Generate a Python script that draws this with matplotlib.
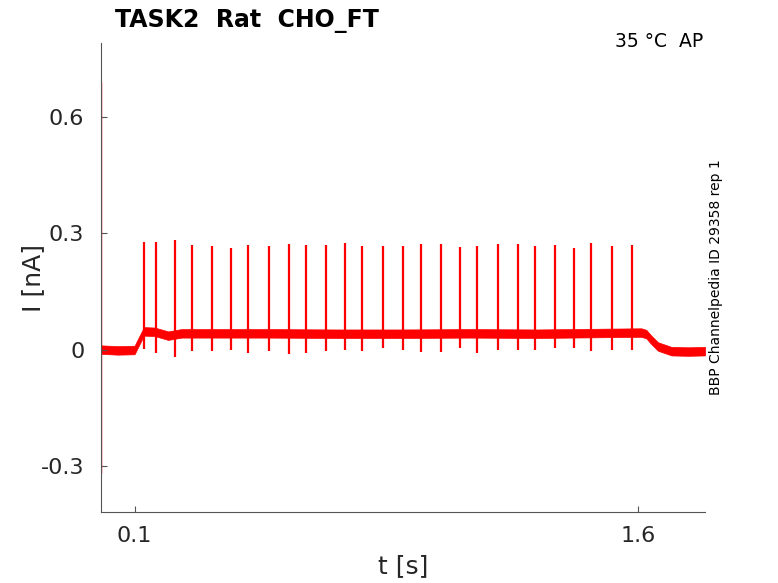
import numpy as np
import matplotlib
matplotlib.use('Agg')
import matplotlib.pyplot as plt

# spike times [s], peaks and post-spike troughs [nA]
spike_t = [0.1285, 0.1643, 0.2202, 0.2719, 0.3316, 0.3884, 0.4392, 0.5011, 0.5608,
           0.6116, 0.6714, 0.7281, 0.7789, 0.8417, 0.9014, 0.9522, 1.0129, 1.0687,
           1.1204, 1.1823, 1.2420, 1.2928, 1.3526, 1.4093, 1.4601, 1.5229, 1.5814]
spike_peak = [0.277, 0.277, 0.282, 0.270, 0.268, 0.262, 0.271, 0.266, 0.273,
              0.271, 0.269, 0.274, 0.266, 0.267, 0.268, 0.272, 0.273, 0.264,
              0.266, 0.273, 0.273, 0.267, 0.269, 0.263, 0.274, 0.267, 0.271]
spike_trough = [0.001, -0.009, -0.019, -0.004, -0.004, 0.000, -0.009, -0.003, -0.011,
                -0.009, -0.003, 0.000, -0.004, 0.003, -0.002, -0.006, -0.006, 0.005,
                -0.009, 0.000, 0.000, 0.000, 0.003, 0.003, -0.004, 0.000, 0.000]

# slow baseline (centre of the noisy band)
base_t = [0.0, 0.05, 0.10, 0.115, 0.128, 0.16, 0.20, 0.24, 0.35, 0.50, 0.70,
          0.90, 1.10, 1.30, 1.50, 1.61, 1.625, 1.64, 1.66, 1.70, 1.75, 1.80]
base_mid = [0.0, -0.002, -0.001, 0.025, 0.047, 0.046, 0.036, 0.042, 0.042, 0.042, 0.041,
            0.041, 0.042, 0.041, 0.043, 0.044, 0.040, 0.025, 0.008, -0.004, -0.005, -0.004]
noise_half = 0.011

# capacitive transient at t = 0
trans_t = 0.001
trans_lo = -0.318
trans_hi = 0.69

xticks = [0.1, 1.6]
yticks = [-0.3, 0, 0.3, 0.6]
yticklabels = ['-0.3', '0', '0.3', '0.6']

red = '#ff0000'
grey = '#555555'
txt = '#262626'

fig = plt.figure(figsize=(7.78, 5.83), dpi=100)
ax = fig.add_axes([0.1298, 0.1218, 0.7764, 0.8044])

bm = np.array(base_mid)
ax.fill_between(base_t, bm - noise_half, bm + noise_half, color=red, lw=0.5)
ax.vlines(spike_t, spike_trough, spike_peak, color=red, lw=1.6)
ax.vlines([trans_t], [trans_lo], [trans_hi], color=red, lw=1.0)

ax.set_xlim(0, 1.8)
lo, hi = trans_lo, trans_hi
ax.set_ylim(lo - 0.1 * (hi - lo), hi + 0.1 * (hi - lo))

ax.set_xticks(xticks)
ax.set_xticklabels(['0.1', '1.6'])
ax.set_yticks(yticks)
ax.set_yticklabels(yticklabels)
ax.tick_params(direction='in', length=4, width=0.8, colors=grey, labelcolor=txt,
               labelsize=16)
ax.tick_params(axis='x', pad=10)
ax.tick_params(axis='y', pad=12)

for s in ['top', 'right']:
    ax.spines[s].set_visible(False)
for s in ['left', 'bottom']:
    ax.spines[s].set_color(grey)
    ax.spines[s].set_linewidth(0.8)

ax.set_xlabel('t [s]', fontsize=18, color=txt, labelpad=6)
ax.set_ylabel('I [nA]', fontsize=18, color=txt, labelpad=-3)

fig.text(115/778, 1 - 27/583, 'TASK2  Rat  CHO_FT', fontsize=17, fontweight='bold',
         ha='left', va='baseline', color='black')
fig.text(703/778, 1 - 47/583, '35 °C  AP', fontsize=13.5, ha='right', va='baseline',
         color='black')
ax.text(1.018, 0.5, 'BBP Channelpedia ID 29358 rep 1', transform=ax.transAxes,
        rotation=90, fontsize=10, ha='center', va='center', color='black')

fig.savefig('out.png', dpi=100)
